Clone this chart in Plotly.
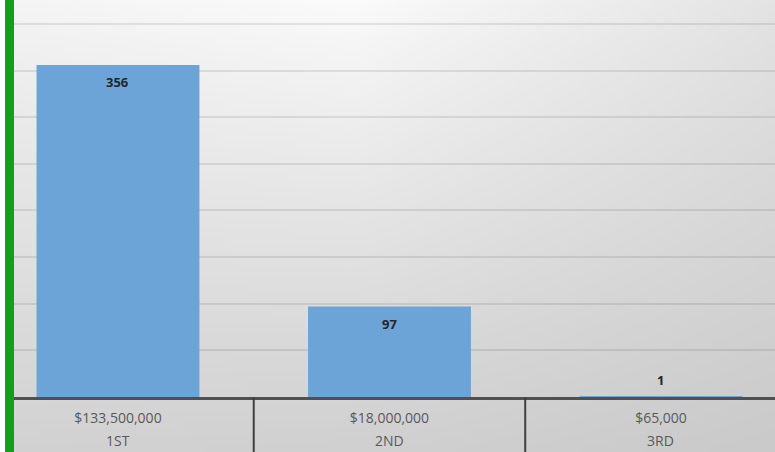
import base64
import struct
import zlib

import numpy as np
import plotly.graph_objects as go

# ---- data ----
ranks = ["1ST", "2ND", "3RD"]
amounts = ["$133,500,000", "$18,000,000", "$65,000"]
counts = [356, 97, 1]

W, H = 775, 452
ML, MB, MT, MR = 14, 55, 0, 0
PW, PH = W - ML - MR, H - MT - MB


def png_data_uri(arr):
    h, w = arr.shape
    raw = b"".join(b"\x00" + arr[i].astype(np.uint8).tobytes() for i in range(h))

    def chunk(t, d):
        c = struct.pack(">I", len(d)) + t + d
        return c + struct.pack(">I", zlib.crc32(t + d) & 0xFFFFFFFF)

    png = (b"\x89PNG\r\n\x1a\n"
           + chunk(b"IHDR", struct.pack(">IIBBBBB", w, h, 8, 0, 0, 0, 0))
           + chunk(b"IDAT", zlib.compress(raw, 9))
           + chunk(b"IEND", b""))
    return "data:image/png;base64," + base64.b64encode(png).decode()


# soft background gradient (light at top, grey at bottom)
gw, gh = 190, 113
xs = np.linspace(0, 1, gw)
ys = np.linspace(0, 1, gh)
top = np.interp(xs, [0, 0.45, 1], [245, 251, 228])
bot = np.interp(xs, [0, 0.5, 1], [210, 208, 202])
t = ys[:, None] ** 0.9
grad = top[None, :] * (1 - t) + bot[None, :] * t
bg_uri = png_data_uri(np.clip(grad, 0, 255))

fig = go.Figure()
fig.add_trace(go.Bar(
    x=ranks,
    y=counts,
    marker=dict(color="#6CA4D8", line=dict(width=0)),
    width=0.6,
    hoverinfo="skip",
))

label_font = dict(family="Open Sans", size=14, color="#595959")
annotations = []
for i, v in enumerate(counts):
    inside = v > 30
    annotations.append(dict(
        x=i, y=v, xref="x", yref="y",
        text=str(v), showarrow=False,
        yshift=-17 if inside else 16,
        font=dict(family="Open Sans", size=13, color="#262626", weight="bold"),
    ))
for i, r in enumerate(ranks):
    annotations.append(dict(
        x=i, y=0, xref="x", yref="paper", yanchor="middle",
        text=r, showarrow=False, yshift=-43, borderpad=0, font=label_font,
    ))

shapes = [dict(
    type="rect", xref="paper", yref="paper",
    x0=-9 / PW, x1=0, y0=-MB / PH - 0.05, y1=1.05,
    fillcolor="#14A014", line=dict(width=0), layer="above",
)]
for i in range(len(ranks) + 1):
    shapes.append(dict(
        type="line", xref="x", yref="paper",
        x0=i - 0.5, x1=i - 0.5, y0=0, y1=-MB / PH - 0.05,
        line=dict(color="#404040", width=2),
    ))

y_top = PH / (332 / 356)

fig.update_layout(
    width=W, height=H,
    margin=dict(l=ML, r=MR, t=MT, b=MB, pad=0),
    paper_bgcolor="white",
    plot_bgcolor="rgba(0,0,0,0)",
    showlegend=False,
    annotations=annotations,
    shapes=shapes,
    images=[dict(
        source=bg_uri, xref="paper", yref="paper",
        x=0, y=1, sizex=1, sizey=H / PH,
        xanchor="left", yanchor="top", sizing="stretch", layer="below",
    )],
    xaxis=dict(
        type="category",
        range=[-0.383, 2.42],
        tickvals=ranks, ticktext=amounts,
        showline=True, linecolor="#505050", linewidth=2.5,
        ticks="", ticklabelstandoff=6, showgrid=False, automargin=False,
        tickfont=label_font,
    ),
    yaxis=dict(
        range=[0, y_top], dtick=50, showticklabels=False,
        showgrid=True, gridcolor="rgba(0,0,0,0.09)", gridwidth=2,
        zeroline=False, automargin=False,
    ),
)

fig.write_html(
    "out.html",
    config={"displayModeBar": False},
    post_script="document.body.style.margin='0';",
)
